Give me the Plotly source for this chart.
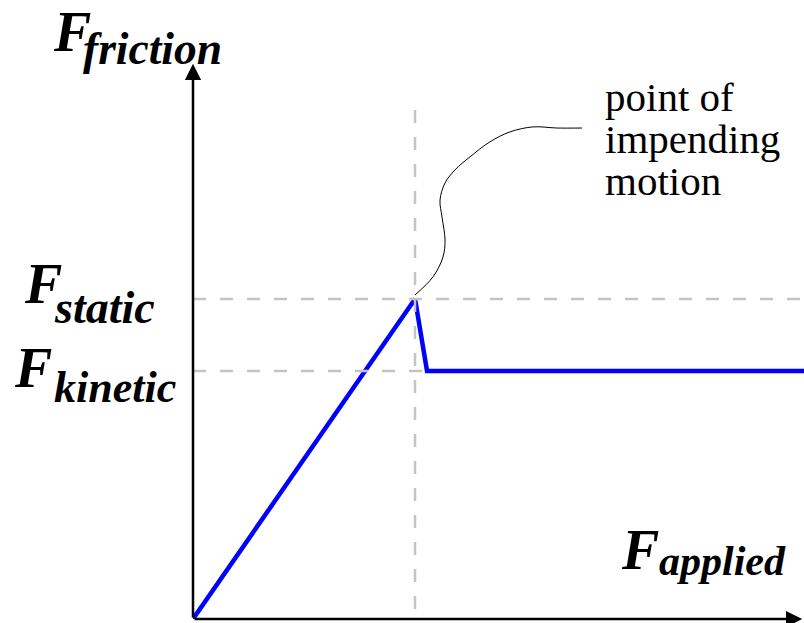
import plotly.graph_objects as go

# ---- data (arbitrary force units) ----
applied = [0, 5.0, 5.27, 13.76]
friction = [0, 10.0, 7.75, 7.75]
f_static = 10.0
f_kinetic = 7.75
peak_x = 5.0
kinetic_start = 5.27
x_max = 13.76
y_max = 19.34
y_axis_top = 17.35
x_axis_end = 13.72
vline_top = 15.9

# leader curve for "point of impending motion"
leader_x = [5.0, 5.405, 5.63, 5.676, 5.608, 5.563, 5.676, 5.90, 6.239, 6.689, 7.14, 7.658, 8.198, 8.761]
leader_y = [10.125, 10.69, 11.31, 11.84, 12.56, 13.09, 13.625, 14.03, 14.44, 14.91, 15.22, 15.375, 15.34, 15.34]

note_lines = ["point of", "impending", "motion"]

W, H = 804, 623
L, B = 193, 4
PW, PH = W - L, H - B


def px(xp):
    return (xp - L) / PW


def py(yp):
    return (H - B - yp) / PH


fig = go.Figure()

# friction curve
fig.add_trace(go.Scatter(x=applied, y=friction, mode="lines",
                         line=dict(color="#0000ff", width=4.5), cliponaxis=False,
                         hoverinfo="skip"))

dash = "13px,14px"
gray = "#c4c4c4"
fig.add_trace(go.Scatter(x=[peak_x, peak_x], y=[vline_top, 0], mode="lines",
                         line=dict(color=gray, width=2.5, dash=dash), hoverinfo="skip"))
fig.add_trace(go.Scatter(x=[0, x_max], y=[f_static, f_static], mode="lines",
                         line=dict(color=gray, width=2.5, dash=dash), cliponaxis=False,
                         hoverinfo="skip"))
fig.add_trace(go.Scatter(x=[0, kinetic_start], y=[f_kinetic, f_kinetic], mode="lines",
                         line=dict(color=gray, width=2.5, dash=dash), hoverinfo="skip"))

# leader line
fig.add_trace(go.Scatter(x=leader_x, y=leader_y, mode="lines",
                         line=dict(color="black", width=1, shape="spline"),
                         hoverinfo="skip"))

# axes arrows
fig.add_annotation(x=0, y=y_axis_top, ax=0, ay=0, axref="x", ayref="y", xref="x", yref="y",
                   text="", showarrow=True, arrowhead=2, arrowwidth=2.5, arrowsize=1.3,
                   arrowcolor="black", standoff=0)
fig.add_annotation(x=x_axis_end, y=0, ax=0, ay=0, axref="x", ayref="y", xref="x", yref="y",
                   text="", showarrow=True, arrowhead=2, arrowwidth=2.5, arrowsize=1.3,
                   arrowcolor="black", standoff=0)

serif = "'Liberation Serif', 'Times New Roman', Times, 'DejaVu Serif', serif"


def label(text, xp, baseline, size, bold_italic=True):
    t = f"<b><i>{text}</i></b>" if bold_italic else text
    fig.add_annotation(xref="paper", yref="paper", x=px(xp), y=py(baseline - 0.3375 * size),
                       xanchor="left", yanchor="middle", text=t, showarrow=False,
                       font=dict(family=serif, size=size, color="black"))


FS = 56
label("F", 51, 51, FS)
label("friction", 81, 64, 45.5)
label("F", 22, 303, FS)
label("static", 52, 323, 46)
label("F", 12, 387, FS)
label("kinetic", 52, 402, 44)
label("F", 619, 569, FS)
label("applied", 657, 575, 42)

for i, line in enumerate(note_lines):
    label(line, 603, 111 + 42 * i, 41, bold_italic=False)

fig.update_layout(
    width=W, height=H,
    margin=dict(l=L, r=0, t=0, b=B, autoexpand=False),
    paper_bgcolor="white", plot_bgcolor="white",
    showlegend=False,
    xaxis=dict(range=[0, x_max], visible=False, fixedrange=True),
    yaxis=dict(range=[0, y_max], visible=False, fixedrange=True),
)

fig.write_html("out.html", config={"displayModeBar": False},
               post_script="document.body.style.margin='0';document.body.style.overflow='hidden';")
